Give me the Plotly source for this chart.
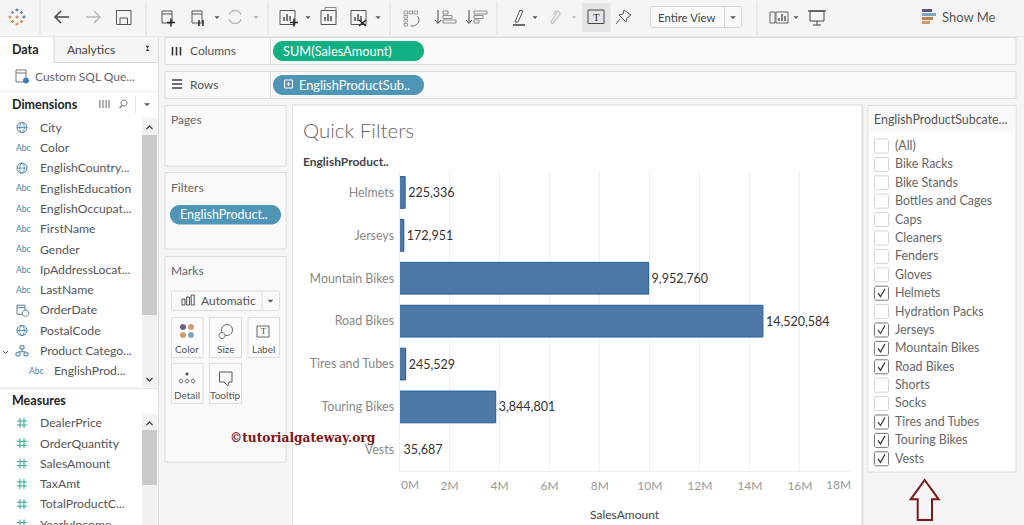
import math
import plotly.graph_objects as go

W, H = 1024, 525

# ---- data -------------------------------------------------------------
categories = ["Helmets", "Jerseys", "Mountain Bikes", "Road Bikes",
              "Tires and Tubes", "Touring Bikes", "Vests"]
sales_amount = [225336, 172951, 9952760, 14520584, 245529, 3844801, 35687]
axis_ticks = [0, 2e6, 4e6, 6e6, 8e6, 10e6, 12e6, 14e6, 16e6, 18e6]
axis_tick_labels = ["", "2M", "4M", "6M", "8M", "10M", "12M", "14M", "16M", ""]

dimensions = ["City", "Color", "EnglishCountry...", "EnglishEducation", "EnglishOccupat...",
              "FirstName", "Gender", "IpAddressLocat...", "LastName", "OrderDate",
              "PostalCode", "Product Catego...", "EnglishProd..."]
dimension_kinds = ["geo", "abc", "geo", "abc", "abc", "abc", "abc", "abc", "abc", "date",
                   "geo", "hier", "abc"]
measures = ["DealerPrice", "OrderQuantity", "SalesAmount", "TaxAmt", "TotalProductC...", "YearlyIncome"]
filter_items = ["(All)", "Bike Racks", "Bike Stands", "Bottles and Cages", "Caps", "Cleaners",
                "Fenders", "Gloves", "Helmets", "Hydration Packs", "Jerseys", "Mountain Bikes",
                "Road Bikes", "Shorts", "Socks", "Tires and Tubes", "Touring Bikes", "Vests"]
filter_checked = [0, 0, 0, 0, 0, 0, 0, 0, 1, 0, 1, 1, 1, 0, 0, 1, 1, 1]
mark_cards = ["Color", "Size", "Label", "Detail", "Tooltip"]

FONT = "Lato"
shapes, notes = [], []
X = lambda v: v / W
Y = lambda v: 1 - v / H


def rect(x0, y0, x1, y1, fill="rgba(0,0,0,0)", line=None, lw=1):
    shapes.append(dict(type="rect", xref="paper", yref="paper", x0=X(x0), x1=X(x1), y0=Y(y0), y1=Y(y1),
                       fillcolor=fill, line=dict(color=line or "rgba(0,0,0,0)", width=lw if line else 0),
                       layer="below"))


def seg(x0, y0, x1, y1, color="#555", lw=1):
    shapes.append(dict(type="line", xref="paper", yref="paper", x0=X(x0), x1=X(x1), y0=Y(y0), y1=Y(y1),
                       line=dict(color=color, width=lw), layer="below"))


def poly(pts, fill="rgba(0,0,0,0)", line="#555", lw=1, close=True, layer="below"):
    d = "M" + " L".join(f"{X(a):.5f},{Y(b):.5f}" for a, b in pts) + (" Z" if close else "")
    shapes.append(dict(type="path", xref="paper", yref="paper", path=d, fillcolor=fill,
                       line=dict(color=line or "rgba(0,0,0,0)", width=lw if line else 0), layer=layer))


def arc_pts(cx, cy, rx, ry, a0, a1, n=14):
    return [(cx + rx * math.cos(math.radians(a0 + (a1 - a0) * i / n)),
             cy + ry * math.sin(math.radians(a0 + (a1 - a0) * i / n))) for i in range(n + 1)]


def rounded(x0, y0, x1, y1, r, fill, line=None, lw=1):
    pts = (arc_pts(x1 - r, y0 + r, r, r, -90, 0) + arc_pts(x1 - r, y1 - r, r, r, 0, 90) +
           arc_pts(x0 + r, y1 - r, r, r, 90, 180) + arc_pts(x0 + r, y0 + r, r, r, 180, 270))
    poly(pts, fill, line, lw)


def circle(cx, cy, r, fill="rgba(0,0,0,0)", line="#666", lw=1):
    poly(arc_pts(cx, cy, r, r, 0, 360, 20), fill, line, lw)


def text(x, y, s, size=12, color="#555", anchor="left", bold=False, family=FONT):
    notes.append(dict(xref="paper", yref="paper", x=X(x), y=Y(y - 0.6), text=f"<b>{s}</b>" if bold else s,
                      showarrow=False, xanchor=anchor, yanchor="middle", borderpad=0, borderwidth=0,
                      font=dict(family=family, size=size, color=color)))


def caret(cx, cy, color="#555", s=2.5):
    poly([(cx - s, cy - 1.3), (cx + s, cy - 1.3), (cx, cy + 1.5)], color, None)


BG = "#f5f5f5"
CARD = "#f9f9f9"
EDGE = "#dcdcdc"

# ---- window chrome ----------------------------------------------------
rect(0, 0, W, 36, BG)
for sx in (40, 146, 268, 390, 497, 757):
    seg(sx, 1, sx, 35, "#dddddd", 1)
seg(0, 36.5, W, 36.5, "#e6e6e6", 1)

# logo
for dx, dy, c in ((0, -7, "#5b6f9a"), (0, 7, "#d98a3c"), (-7, 0, "#d98a3c"), (7, 0, "#5b6f9a"),
                  (-4.5, -4.5, "#7f8fb0"), (4.5, 4.5, "#d98a3c"), (-4.5, 4.5, "#c77f4a"), (4.5, -4.5, "#6a7ea6"),
                  (0, 0, "#c77f4a")):
    seg(17 + dx - 1.6, 17 + dy, 17 + dx + 1.6, 17 + dy, c, 1.2)
    seg(17 + dx, 17 + dy - 1.6, 17 + dx, 17 + dy + 1.6, c, 1.2)

# back / forward / save
poly([(69, 17), (55, 17)], line="#444", lw=1.5, close=False)
poly([(61, 11), (55, 17), (61, 23)], line="#444", lw=1.5, close=False)
poly([(86, 17), (100, 17)], line="#b8b8b8", lw=1.5, close=False)
poly([(94, 11), (100, 17), (94, 23)], line="#b8b8b8", lw=1.5, close=False)
rect(116.5, 10.5, 131, 24.5, "rgba(0,0,0,0)", "#555", 1)
rect(120, 18, 127.5, 24.5, "rgba(0,0,0,0)", "#555", 1)


def db(cx, cy, color="#555"):
    poly([(cx - 5, cy - 6), (cx + 5, cy - 6), (cx + 5, cy + 6), (cx - 5, cy + 6)], line=color)
    seg(cx - 5, cy - 3, cx + 5, cy - 3, color, 1)


db(167, 17)
seg(167, 22.5, 175, 22.5, "#222", 1.5)
seg(171, 18.5, 171, 26.5, "#222", 1.5)
db(197, 17)
seg(199, 20, 199, 26, "#222", 1.5)
seg(203, 20, 203, 26, "#222", 1.5)
caret(217, 17.5)
poly(arc_pts(235, 17, 6.5, 6.5, 200, 340), line="#b5b5b5", lw=1.3, close=False)
poly(arc_pts(235, 17, 6.5, 6.5, 20, 160), line="#b5b5b5", lw=1.3, close=False)
caret(256, 17.5, "#aaa")

# worksheet icons
rect(325, 7.5, 336, 17, BG, "#888", 1)
for cx, kind in ((288, "plus"), (329, "dup"), (359, "x")):
    rect(cx - 8, 10.5, cx + 7, 24.5, BG if kind == "dup" else "rgba(0,0,0,0)", "#555", 1)
    for i, h in enumerate((4, 7, 5)):
        seg(cx - 4 + i * 3, 21, cx - 4 + i * 3, 21 - h, "#333", 1.3)
seg(290, 22.5, 298, 22.5, "#222", 1.5)
seg(294, 18.5, 294, 26.5, "#222", 1.5)
seg(359, 20, 366, 26, "#222", 1.6)
seg(366, 20, 359, 26, "#222", 1.6)
caret(308, 17.5)
caret(378, 17.5)

# swap + sort
for i in range(3):
    rect(404 + i * 5, 11, 407.5 + i * 5, 14, "rgba(0,0,0,0)", "#888", 0.8)
    rect(404, 15.5 + i * 4, 407.5, 18 + i * 4, "rgba(0,0,0,0)", "#888", 0.8)
poly(arc_pts(412, 20, 7, 6, -40, 100), line="#666", close=False)
for ox, flip in ((443, 0), (474, 1)):
    seg(ox - 5, 10, ox - 5, 23, "#444", 1)
    poly([(ox - 8, 20), (ox - 5, 23.5), (ox - 2, 20)], line="#444", close=False)
    for i, wd in enumerate((5, 9, 13) if not flip else (13, 9, 5)):
        rect(ox, 11 + i * 4.5, ox + wd, 14 + i * 4.5, "rgba(0,0,0,0)", "#777", 0.8)

# highlighter, clip, text, pin
poly([(520, 10), (523, 11), (518, 22), (515, 22)], line="#555")
seg(513, 25, 525, 25, "#333", 1.4)
caret(535, 17.5)
poly(arc_pts(557, 14, 3, 3, 180, 360, 6) + [(554, 22)] + arc_pts(552.5, 22, 1.6, 1.6, 0, 180, 4) + [(557, 12)],
     line="#c0c0c0", lw=1.2, close=False)
caret(574, 17.5, "#bbb")
rect(582, 3, 610.5, 32, "#e4e4e4")
rect(588, 10, 604, 23.5, "rgba(0,0,0,0)", "#444", 1)
text(596, 17.6, "T", 11, "#333", "center", family="Liberation Serif")
poly([(624, 10), (631, 15), (627, 18), (626, 22), (619, 15), (623, 14)], line="#555")
seg(620, 19, 616, 24, "#555", 1)

# view dropdown
rounded(650.5, 6.5, 741.5, 27.5, 2, "#fafafa", "#d5d5d5")
seg(724.5, 7, 724.5, 27, "#d5d5d5")
text(658, 17.6, "Entire View", 11.4, "#444")
caret(733, 17.5, "#555", 3)

# show-me row
rect(770, 12, 775, 23, "rgba(0,0,0,0)", "#666")
rect(776, 12, 788, 23, "rgba(0,0,0,0)", "#666")
for i, h in enumerate((3, 7, 5)):
    seg(779 + i * 3, 21, 779 + i * 3, 21 - h, "#333", 1.2)
caret(796, 17.5)
rect(810, 11, 824, 21, "rgba(0,0,0,0)", "#444")
seg(808, 11, 826, 11, "#444", 1.2)
seg(817, 21, 817, 25, "#444")
seg(813, 25, 821, 25, "#444")
rect(922, 9, 932, 12, "#5f5384")
rect(922, 13, 936, 16, "#7ea6c4")
rect(922, 17, 933, 20, "#c47f4f")
rect(922, 21, 930, 24, "#d29a62")
text(942, 17.6, "Show Me", 13, "#555")

# ---- left data pane ---------------------------------------------------
rect(0, 37, 158, H, "white")
seg(158.5, 37, 158.5, H, "#dddddd", 1)
rect(54, 37, 158, 62, BG)
seg(54, 37, 54, 62, "#d8d8d8")
seg(54, 62.5, 158, 62.5, "#d8d8d8")
text(12, 50, "Data", 12.5, "#222", bold=True)
text(67, 50.3, "Analytics", 12, "#444")
caret(147.5, 47, "#444", 2)
poly([(145.5, 51), (149.5, 51), (147.5, 48.5)], "#444", None)

db(21, 76, "#777")
circle(26, 80.5, 3, "#3d7fb5", None)
text(35, 76.6, "Custom SQL Que...", 12, "#666")
seg(0, 91.5, 158, 91.5, "#eeeeee")
text(12, 105, "Dimensions", 12.5, "#222", bold=True)
for i in range(4):
    seg(100 + i * 3, 100, 100 + i * 3, 108, "#9a9a9a", 1.5)
circle(124, 103, 3, line="#777")
seg(122, 105.5, 119.5, 108, "#777", 1.2)
seg(135.5, 96, 135.5, 113, "#e2e2e2")
caret(147, 104.5, "#555", 3)


def icon(kind, cx, cy):
    blue = "#4a7fa8"
    if kind == "geo":
        circle(cx, cy, 5, line=blue)
        poly(arc_pts(cx, cy, 2.3, 5, 0, 360, 16), line=blue, lw=0.8)
        seg(cx - 5, cy, cx + 5, cy, blue, 0.8)
    elif kind == "abc":
        text(cx, cy + 0.6, "Abc", 8.5, blue, "center")
    elif kind == "date":
        rect(cx - 5, cy - 5, cx + 3, cy + 4, "rgba(0,0,0,0)", "#5c7f9c")
        seg(cx - 5, cy - 2.5, cx + 3, cy - 2.5, "#5c7f9c")
        circle(cx + 3.5, cy + 3, 3.2, "white", "#5c7f9c")
    elif kind == "hier":
        rect(cx - 2, cy - 5, cx + 2, cy - 2, "rgba(0,0,0,0)", blue)
        rect(cx - 6, cy + 2, cx - 2, cy + 5, "rgba(0,0,0,0)", blue)
        rect(cx + 2, cy + 2, cx + 6, cy + 5, "rgba(0,0,0,0)", blue)
        seg(cx, cy - 2, cx, cy + 1, blue)
        seg(cx - 4, cy + 1, cx + 4, cy + 1, blue)
    elif kind == "measure":
        c = "#2ea58f"
        for o in (-2, 2):
            seg(cx + o, cy - 5, cx + o, cy + 5, c, 1)
            seg(cx - 5, cy + o, cx + 5, cy + o, c, 1)


for i, (name, kind) in enumerate(zip(dimensions, dimension_kinds)):
    yy = 127.5 + i * 20.3
    indent = 14 if i == 12 else 0
    icon(kind, 22 + indent + (1 if kind == "abc" and not indent else 0), yy)
    text(40 + indent, yy + 0.3, name, 12.2, "#555")
poly([(3, 351), (5.5, 353.5), (8, 351)], line="#555", close=False)
seg(0, 388.5, 158, 388.5, "#e8e8e8", 1.5)
text(12, 400.8, "Measures", 12.5, "#222", bold=True)
for i, name in enumerate(measures):
    yy = 423 + i * 20.3
    icon("measure", 22, yy)
    text(40, yy + 0.3, name, 12.2, "#555")

# scroll bars
rect(142, 118, 157.5, 387, "#f1f1f1")
rect(142, 135, 157, 315, "#c9c9c9")
poly([(146.5, 129), (149.5, 126), (152.5, 129)], line="#444", lw=1.4, close=False)
poly([(146.5, 378), (149.5, 381), (152.5, 378)], line="#444", lw=1.4, close=False)
rect(142, 414, 157.5, H, "#f1f1f1")
rect(142, 430, 157, 485, "#c9c9c9")
poly([(146.5, 425), (149.5, 422), (152.5, 425)], line="#444", lw=1.4, close=False)

# ---- shelves ----------------------------------------------------------
rect(159, 37, W, H, BG)
for y0, y1, pill, label in ((37.5, 64.5, "#12b183", "Columns"), (71.5, 98.5, "#4f96b6", "Rows")):
    rect(165, y0, 1016, y1, "#f9f9f9", EDGE)
    seg(270.5, y0, 270.5, y1, EDGE)
    text(190, (y0 + y1) / 2 + .5, label, 12, "#555")
    rounded(273, y0 + 3.5, 424, y1 - 3.5, 10, pill)
for i in range(3):
    seg(172.5 + i * 4, 47, 172.5 + i * 4, 55.5, "#333", 1.6)
    seg(172, 80 + i * 4, 182, 80 + i * 4, "#333", 1.4)
text(283, 51.4, "SUM(SalesAmount)", 12.8, "white")
rect(284.5, 80, 292.5, 88, "rgba(0,0,0,0)", "white")
seg(286.5, 84, 290.5, 84, "white")
seg(288.5, 82, 288.5, 86, "white")
text(299, 85.4, "EnglishProductSub..", 12.8, "white")

# ---- side cards -------------------------------------------------------
rect(165, 105.5, 286, 166, CARD, EDGE)
text(171, 120.4, "Pages", 12, "#666")
rect(165, 172.5, 286, 249, CARD, EDGE)
text(171, 188, "Filters", 12, "#666")
rounded(170, 205, 281, 224.5, 9.7, "#4f96b6")
text(180, 215.4, "EnglishProduct..", 12.5, "white")
rect(165, 256.5, 286, 462, CARD, EDGE)
text(171, 271.4, "Marks", 12, "#666")
rounded(171.5, 291, 279.5, 310.5, 2, "#fafafa", "#dddddd")
seg(262, 291, 262, 310.5, "#dddddd")
for i, h in enumerate((6, 8, 10)):
    rect(182 + i * 4.6, 305 - h, 185 + i * 4.6, 305, "rgba(0,0,0,0)", "#555")
text(200.5, 301.4, "Automatic", 12, "#555")
caret(270.5, 301, "#555", 3)
cells = [(171.5, 317.5, 203), (209.5, 317.5, 241.5), (248, 317.5, 279.5), (171.5, 363.5, 203), (209.5, 363.5, 241.5)]
for (x0, y0, x1), name in zip(cells, mark_cards):
    rect(x0, y0, x1, y0 + 40, "#fbfbfb", "#dddddd")
    text((x0 + x1) / 2, y0 + 32, name, 10, "#555", "center")
for cx, cy, c in ((183, 327, "#6b5f82"), (191, 327, "#d49a66"), (183, 335, "#d49a66"), (191, 335, "#7ba6c4")):
    circle(cx, cy, 3, c, None)
circle(227, 330, 5.5, line="#666")
circle(222, 335.5, 3, "#fbfbfb", "#666")
rect(257, 326, 269, 337, "rgba(0,0,0,0)", "#666")
text(263, 332, "T", 8, "#333", "center", family="Liberation Serif")
circle(187, 374, 1.6, "#555", None)
for cx in (181, 187, 193):
    circle(cx, 381, 1.8, line="#555")
poly([(219.5, 372), (232, 372), (232, 382), (229, 382), (228, 386), (224, 382), (219.5, 382)], line="#555")

# ---- worksheet --------------------------------------------------------
rect(293, 105, 861.5, H, "white")
seg(292.5, 105, 292.5, H, "#e2e2e2", 1)
seg(862.5, 105, 862.5, H, "#e2e2e2", 2)
seg(292.5, 105, 862.5, 105, "#e2e2e2", 1.5)
text(303, 130.4, "Quick Filters", 20.5, "#666", family="Lato Light, Lato")
text(303, 162.4, "EnglishProduct..", 12, "#444", bold=True)
text(410, 485.4, "0M", 12, "#999", "center")
text(838, 485.4, "18M", 12, "#999", "center")
text(625, 515.4, "SalesAmount", 12, "#444", "center")

# ---- filter card ------------------------------------------------------
rect(868, 105.5, 1016, 472, "white", EDGE)
rect(868.5, 106, 1015.5, 133, "#f9f9f9")
text(874, 120.4, "EnglishProductSubcate...", 12.4, "#555")
for i, (name, on) in enumerate(zip(filter_items, filter_checked)):
    yy = 146 + i * 18.4
    edge = "#777777" if on else "#d5d5d5"
    rounded(874.5, yy - 7, 888.5, yy + 7, 1.5, "white", edge)
    if on:
        poly([(878, yy), (880.5, yy + 3.5), (885, yy - 4.5)], line="#333", lw=1.2, close=False)
    text(895, yy, name, 12.4, "#666")

# red arrow
poly([(924.7, 480), (938.7, 499.3), (932, 499.3), (932, 520), (917.7, 520), (917.7, 499.3), (910.7, 499.3)],
     BG, "#7a1a1a", 2)

# watermark
text(230, 438.5, "©tutorialgateway.org", 12.2, "#7d1414", bold=True, family="DejaVu Serif")

# ---- chart ------------------------------------------------------------
bar_fill = ["#4e79a7"] * 6 + ["rgba(255,255,255,0)"]
bar_edge = ["#1f5f99"] * 6 + ["rgba(255,255,255,0)"]
fig = go.Figure(go.Bar(
    x=sales_amount, y=categories, orientation="h",
    marker=dict(color=bar_fill, line=dict(color=bar_edge, width=1)),
    text=[f"{v:,}" for v in sales_amount], textposition="outside", cliponaxis=False,
    textfont=dict(family=FONT, size=12.5, color="#333"),
    hovertemplate="%{y}: %{x:,}<extra></extra>",
))

fig.update_layout(
    width=W, height=H, autosize=False, showlegend=False,
    margin=dict(l=0, r=0, t=0, b=0, pad=0),
    paper_bgcolor=BG, plot_bgcolor="rgba(0,0,0,0)",
    bargap=0.26, shapes=shapes, annotations=notes,
    font=dict(family=FONT),
    xaxis=dict(domain=[399.5 / W, 850 / W], range=[0, 18e6], tickvals=axis_ticks, ticktext=axis_tick_labels,
               tickfont=dict(family=FONT, size=12, color="#999"), gridcolor="#f0f0f0", gridwidth=1,
               zeroline=False, showline=True, linecolor="#eeeeee", ticks="outside", ticklen=3,
               tickcolor="rgba(0,0,0,0)", automargin=False),
    yaxis=dict(domain=[1 - 471.3 / H, 1 - 171 / H], categoryorder="array", categoryarray=categories,
               range=[6.5, -0.5], tickfont=dict(family=FONT, size=12.4, color="#888"), showgrid=False,
               zeroline=False, showline=True, linecolor="#eeeeee", ticks="outside", ticklen=2,
               tickcolor="rgba(0,0,0,0)", automargin=False),
)

fig.write_html("out.html", config=dict(displayModeBar=False),
               post_script="document.body.style.margin='0';document.documentElement.style.overflow='hidden';")
